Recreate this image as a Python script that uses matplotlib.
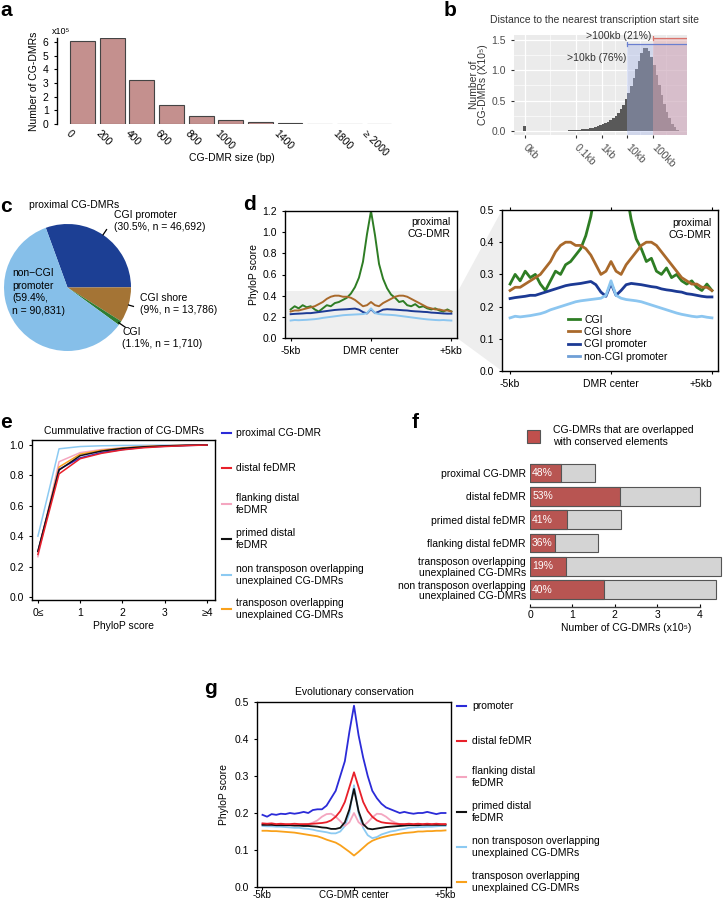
import matplotlib
matplotlib.use('Agg')
import numpy as np
import matplotlib.pyplot as plt
from matplotlib.lines import Line2D
from matplotlib.patches import Polygon, Rectangle
from matplotlib.ticker import FormatStrFormatter

plt.rcParams['font.family'] = ['Liberation Sans', 'DejaVu Sans']
plt.rcParams['font.size'] = 7.5
plt.rcParams['axes.linewidth'] = 1.0
plt.rcParams['xtick.labelsize'] = 7.5
plt.rcParams['ytick.labelsize'] = 7.5
plt.rcParams['xtick.major.size'] = 2.5
plt.rcParams['ytick.major.size'] = 2.5

# ---------------- data ----------------
# a: CG-DMR size histogram (x10^5)
size_counts = [6.07, 6.33, 3.23, 1.39, 0.59, 0.27, 0.14, 0.06, 0.03, 0.03, 0.03]
size_tick_pos = [0, 1, 2, 3, 4, 5, 7, 9, 10]
size_tick_labels = ['0', '200', '400', '600', '800', '1000', '1400', '1800', '≥ 2000']

# b: distance to nearest TSS, log10(bp) bins of 0.1 (x10^5)
tss_bins = np.round(np.arange(1.0, 6.1, 0.1), 1)
tss_counts = [0.003, 0.003, 0.004, 0.005, 0.006, 0.007, 0.008, 0.010, 0.012, 0.015,
              0.018, 0.022, 0.027, 0.033, 0.040, 0.048, 0.057, 0.068, 0.080, 0.094,
              0.110, 0.128, 0.150, 0.175, 0.210, 0.250, 0.300, 0.360, 0.430, 0.520,
              0.620, 0.740, 0.880, 1.020, 1.160, 1.280, 1.360, 1.370, 1.320, 1.220,
              1.080, 0.920, 0.760, 0.600, 0.450, 0.320, 0.210, 0.120, 0.060, 0.020,
              0.005]
tss_zero = 0.09
tss_ticks = [0, 2, 3, 4, 5]
tss_labels = ['0kb', '0.1kb', '1kb', '10kb', '100kb']

# c: proximal CG-DMR pie
pie_names = ['CGI promoter', 'CGI shore', 'CGI', 'non-CGI promoter']
pie_pct = [30.5, 9.0, 1.1, 59.4]
pie_colors = ['#1c3f94', '#a47435', '#2f7d32', '#86bfe9']

# d / g: PhyloP profiles around DMR centre (kb)
prof_x = np.linspace(-5, 5, 41)
d_cgi = [0.27, 0.30, 0.28, 0.31, 0.29, 0.30, 0.27, 0.25, 0.28, 0.31,
         0.30, 0.33, 0.34, 0.36, 0.38, 0.42, 0.48, 0.57, 0.72, 0.98,
         1.20,
         0.97, 0.70, 0.56, 0.47, 0.41, 0.38, 0.34, 0.35, 0.31, 0.30,
         0.32, 0.29, 0.30, 0.28, 0.27, 0.28, 0.26, 0.25, 0.27, 0.25]
d_shore = [0.25, 0.26, 0.26, 0.27, 0.28, 0.29, 0.30, 0.32, 0.34, 0.37,
           0.39, 0.40, 0.40, 0.39, 0.39, 0.38, 0.36, 0.33, 0.30, 0.31,
           0.34,
           0.31, 0.30, 0.33, 0.35, 0.37, 0.39, 0.40, 0.40, 0.39, 0.37,
           0.35, 0.33, 0.31, 0.29, 0.28, 0.27, 0.27, 0.26, 0.26, 0.25]
d_prom = [0.225, 0.228, 0.230, 0.232, 0.235, 0.235, 0.240, 0.245, 0.250, 0.255,
          0.260, 0.265, 0.268, 0.270, 0.272, 0.275, 0.278, 0.268, 0.245, 0.232,
          0.272,
          0.235, 0.250, 0.268, 0.272, 0.270, 0.268, 0.265, 0.262, 0.260, 0.255,
          0.252, 0.250, 0.247, 0.245, 0.240, 0.238, 0.235, 0.232, 0.230, 0.230]
d_noncgi = [0.165, 0.170, 0.168, 0.170, 0.172, 0.175, 0.178, 0.183, 0.190, 0.195,
            0.200, 0.205, 0.210, 0.215, 0.218, 0.220, 0.222, 0.224, 0.226, 0.235,
            0.280,
            0.235, 0.226, 0.222, 0.220, 0.218, 0.215, 0.210, 0.205, 0.200, 0.195,
            0.190, 0.185, 0.180, 0.176, 0.173, 0.170, 0.168, 0.170, 0.167, 0.165]

g_prom = [0.195, 0.190, 0.197, 0.195, 0.198, 0.197, 0.200, 0.198, 0.200, 0.203,
          0.200, 0.208, 0.210, 0.210, 0.220, 0.240, 0.260, 0.300, 0.340, 0.420,
          0.490,
          0.410, 0.350, 0.300, 0.260, 0.240, 0.225, 0.215, 0.210, 0.205, 0.200,
          0.203, 0.200, 0.198, 0.200, 0.200, 0.203, 0.200, 0.197, 0.200, 0.200]
g_distal = [0.172, 0.171, 0.172, 0.170, 0.171, 0.170, 0.170, 0.171, 0.170, 0.170,
            0.170, 0.171, 0.172, 0.173, 0.175, 0.180, 0.190, 0.205, 0.230, 0.270,
            0.310,
            0.270, 0.230, 0.205, 0.190, 0.180, 0.175, 0.173, 0.172, 0.171, 0.170,
            0.170, 0.171, 0.170, 0.171, 0.170, 0.171, 0.170, 0.171, 0.170, 0.170]
g_flank = [0.170, 0.169, 0.168, 0.168, 0.168, 0.167, 0.167, 0.167, 0.167, 0.168,
           0.170, 0.174, 0.180, 0.190, 0.197, 0.198, 0.190, 0.178, 0.165, 0.175,
           0.200,
           0.175, 0.165, 0.175, 0.188, 0.198, 0.197, 0.190, 0.180, 0.174, 0.170,
           0.168, 0.167, 0.167, 0.167, 0.168, 0.168, 0.168, 0.169, 0.169, 0.170]
g_primed = [0.168, 0.168, 0.168, 0.167, 0.167, 0.167, 0.167, 0.166, 0.166, 0.165,
            0.165, 0.164, 0.163, 0.161, 0.160, 0.157, 0.157, 0.160, 0.175, 0.210,
            0.265,
            0.205, 0.170, 0.158, 0.156, 0.158, 0.160, 0.162, 0.163, 0.164, 0.165,
            0.166, 0.167, 0.167, 0.167, 0.168, 0.168, 0.168, 0.168, 0.168, 0.168]
g_nontrans = [0.165, 0.164, 0.164, 0.163, 0.163, 0.162, 0.161, 0.160, 0.160, 0.158,
              0.157, 0.155, 0.152, 0.150, 0.148, 0.145, 0.145, 0.150, 0.165, 0.200,
              0.275,
              0.200, 0.160, 0.140, 0.132, 0.135, 0.142, 0.146, 0.150, 0.152, 0.155,
              0.157, 0.160, 0.161, 0.162, 0.162, 0.163, 0.163, 0.164, 0.165, 0.165]
g_trans = [0.152, 0.152, 0.151, 0.151, 0.150, 0.149, 0.148, 0.147, 0.145, 0.143,
           0.141, 0.139, 0.137, 0.133, 0.128, 0.124, 0.120, 0.113, 0.104, 0.095,
           0.085,
           0.095, 0.106, 0.117, 0.125, 0.130, 0.134, 0.137, 0.140, 0.142, 0.144,
           0.146, 0.147, 0.148, 0.150, 0.150, 0.151, 0.151, 0.152, 0.152, 0.153]

# e: cumulative fraction vs PhyloP score
cum_x = [0, 0.5, 1, 1.5, 2, 2.5, 3, 3.5, 4]
cum_proximal = [0.30, 0.84, 0.915, 0.950, 0.970, 0.985, 0.992, 0.997, 1.0]
cum_distal = [0.28, 0.81, 0.910, 0.945, 0.968, 0.982, 0.990, 0.996, 1.0]
cum_flank = [0.265, 0.89, 0.950, 0.970, 0.982, 0.990, 0.995, 0.998, 1.0]
cum_primed = [0.30, 0.835, 0.930, 0.960, 0.978, 0.988, 0.994, 0.998, 1.0]
cum_nontrans = [0.40, 0.975, 0.990, 0.995, 0.997, 0.998, 0.999, 1.0, 1.0]
cum_trans = [0.30, 0.855, 0.940, 0.965, 0.980, 0.990, 0.995, 0.998, 1.0]

# f: overlap with conserved elements (x10^5)
f_labels = ['proximal CG-DMR', 'distal feDMR', 'primed distal feDMR',
            'flanking distal feDMR', 'transposon overlapping\nunexplained CG-DMRs',
            'non transposon overlapping\nunexplained CG-DMRs']
f_total = [1.54, 4.00, 2.14, 1.61, 4.51, 4.38]
f_pct = [48, 53, 41, 36, 19, 40]

# ---------------- layout helpers (pixel coords) ----------------
W, H = 723, 900


def box(l, t, r, b):
    return [l / W, 1 - b / H, (r - l) / W, (b - t) / H]


def fx(x):
    return x / W


def fy(y):
    return 1 - y / H


fig = plt.figure(figsize=(7.23, 9.0), dpi=100)

for letter, x, y in [('a', 0, 11), ('b', 444, 10), ('c', 0, 207), ('d', 243, 205),
                     ('e', 0, 423), ('f', 412, 423), ('g', 204, 688)]:
    fig.text(fx(x), fy(y), letter, fontsize=15, fontweight='bold', va='center')

# ---------------- a ----------------
ax_a = fig.add_axes(box(57, 38, 395, 124))
ax_a.bar(np.arange(len(size_counts)) + 0.5, size_counts, width=0.84,
         color='#c4908e', edgecolor='#444444', linewidth=0.8)
ax_a.set_xlim(-0.36, 11.04)
ax_a.set_ylim(0, 6.3)
for s in ['top', 'right', 'bottom']:
    ax_a.spines[s].set_visible(False)
ax_a.set_yticks(range(7))
ax_a.set_xticks(size_tick_pos, size_tick_labels, rotation=-45, ha='left',
                va='center', rotation_mode='anchor')
ax_a.tick_params(axis='x', length=0, pad=6)
ax_a.set_ylabel('Number of CG-DMRs', labelpad=3)
fig.text(fx(52), fy(32), 'x10\u2075', fontsize=6.5, va='center')
fig.text(fx(232), fy(158), 'CG-DMR size (bp)', ha='center', va='center')

# ---------------- b ----------------
ax_b = fig.add_axes(box(514, 35, 687, 135))
ax_b.set_facecolor('#ebebeb')
for s in ax_b.spines.values():
    s.set_visible(False)
ax_b.set_xlim(-0.41, 6.32)
ax_b.set_ylim(-0.066, 1.58)
ax_b.set_axisbelow(True)
ax_b.set_xticks(tss_ticks)
ax_b.set_xticks([1, 2.5, 3.5, 4.5, 5.5], minor=True)
ax_b.set_yticks([0, 0.5, 1.0, 1.5])
ax_b.set_yticks([0.25, 0.75, 1.25], minor=True)
ax_b.grid(which='major', color='white', lw=0.9)
ax_b.grid(which='minor', color='white', lw=0.45)
ax_b.tick_params(which='minor', length=0)
ax_b.tick_params(which='major', color='#333333', labelcolor='#4d4d4d')
ax_b.yaxis.set_major_formatter(FormatStrFormatter('%.1f'))
ax_b.set_xticklabels(tss_labels, rotation=-45, ha='left', va='center',
                     rotation_mode='anchor')
ax_b.tick_params(axis='x', pad=5)
ax_b.bar(tss_bins + 0.05, tss_counts, width=0.1, color='#595959', linewidth=0)
ax_b.bar([0], [tss_zero], width=0.12, color='#595959', linewidth=0)
far10, far100 = 4, 5
ax_b.fill_between([far10, 6.32], -0.066, 1.43, color='#a9b8ea', alpha=0.4, lw=0)
ax_b.fill_between([far100, 6.32], -0.066, 1.53, color='#e0a2a6', alpha=0.45, lw=0)
ax_b.plot([far10, 6.32], [1.43, 1.43], color='#6a7fd0', lw=0.9)
ax_b.plot([far10, far10], [1.40, 1.46], color='#6a7fd0', lw=0.9)
ax_b.plot([far100, 6.32], [1.53, 1.53], color='#d9736c', lw=0.9)
ax_b.plot([far100, far100], [1.50, 1.56], color='#d9736c', lw=0.9)
ax_b.text(4.95, 1.56, '>100kb (21%)', ha='right', va='center', color='#333333')
ax_b.text(3.95, 1.2, '>10kb (76%)', ha='right', va='center', color='#333333')
ax_b.set_ylabel('Number of\nCG-DMRs (X10\u2075)', color='#333333', linespacing=0.95,
                labelpad=2)
fig.text(fx(594), fy(20), 'Distance to the nearest transcription start site',
         ha='center', va='center', color='#333333')

# ---------------- c ----------------
ax_c = fig.add_axes(box(4, 224, 131, 351))
ax_c.pie(pie_pct, colors=pie_colors, startangle=110, counterclock=False,
         radius=1, wedgeprops=dict(linewidth=0))
ax_c.set_xlim(-1, 1)
ax_c.set_ylim(-1, 1)
for ang, r0, r1 in [(56, 1.0, 1.1), (-16, 1.0, 1.08), (-34.5, 0.98, 1.1)]:
    a = np.deg2rad(ang)
    ax_c.plot([r0 * np.cos(a), r1 * np.cos(a)], [r0 * np.sin(a), r1 * np.sin(a)],
              color='black', lw=0.9, clip_on=False)
ax_c.text(-0.61, 1.3, 'proximal CG-DMRs', va='center')
ax_c.text(0.73, 1.22, 'CGI promoter\n(30.5%, n = 46,692)', va='top', linespacing=1.3)
ax_c.text(-0.87, 0.3, 'non\u2212CGI\npromoter\n(59.4%,\nn = 90,831)', va='top',
          linespacing=1.3)
ax_c.text(1.14, -0.08, 'CGI shore\n(9%, n = 13,786)', va='top', linespacing=1.3)
ax_c.text(0.86, -0.62, 'CGI\n(1.1%, n = 1,710)', va='top', linespacing=1.3)

# ---------------- d ----------------
d_series = [(d_cgi, '#2e7d24', 'CGI'), (d_shore, '#a9692b', 'CGI shore'),
            (d_prom, '#1c3a94', 'CGI promoter'), (d_noncgi, '#8cc6f0', 'non-CGI promoter')]
fig.add_artist(Polygon([(fx(457), fy(293)), (fx(502), fy(210)), (fx(502), fy(371)),
                        (fx(457), fy(338))], closed=True, transform=fig.transFigure,
                       facecolor='#eeeeee', edgecolor='none', zorder=-1))

ax_dl = fig.add_axes(box(285, 211, 457, 338))
ax_dl.axhspan(0, 0.44, color='#efefef', lw=0)
for vals, col, name in d_series:
    ax_dl.plot(prof_x, vals, color=col, lw=1.4)
ax_dl.set_xlim(-5.35, 5.35)
ax_dl.set_ylim(0, 1.2)
ax_dl.set_yticks([0, 0.2, 0.4, 0.6, 0.8, 1.0, 1.2])
ax_dl.yaxis.set_major_formatter(FormatStrFormatter('%.1f'))
ax_dl.set_xticks([-5, 0, 5], ['-5kb', 'DMR center', '+5kb'])
ax_dl.set_ylabel('PhyloP score', labelpad=2)
ax_dl.text(0.96, 0.95, 'proximal\nCG-DMR', transform=ax_dl.transAxes, ha='right',
           va='top', linespacing=1.2)

ax_dr = fig.add_axes(box(502, 210, 718, 371))
for vals, col, name in d_series:
    ax_dr.plot(prof_x, vals, color=col, lw=2.0)
ax_dr.set_xlim(-5.4, 5.3)
ax_dr.set_ylim(0, 0.5)
ax_dr.set_yticks([0, 0.1, 0.2, 0.3, 0.4, 0.5])
ax_dr.yaxis.set_major_formatter(FormatStrFormatter('%.1f'))
ax_dr.set_xticks([-5, 0, 5], ['-5kb', 'DMR center', '+5kb'])
ax_dr.get_xticklabels()[2].set_ha('right')
ax_dr.get_xticklabels()[2].set_x(5.4)
ax_dr.tick_params(axis='x', top=True)
ax_dr.text(0.97, 0.95, 'proximal\nCG-DMR', transform=ax_dr.transAxes, ha='right',
           va='top', linespacing=1.2)
leg_cols = ['#2e7d24', '#a9692b', '#1c3a94', '#6f9fd6']
handles = [Line2D([], [], color=c, lw=2) for c in leg_cols]
ax_dr.legend(handles, [s[2] for s in d_series], loc='lower left',
             bbox_to_anchor=(0.26, 0.0), frameon=False, handlelength=1.2,
             handletextpad=0.4, labelspacing=0.22, fontsize=7.5)

# ---------------- e ----------------
ax_e = fig.add_axes(box(32, 440, 215, 600))
e_series = [(cum_nontrans, '#8ccaf2'), (cum_flank, '#f4a6c0'), (cum_trans, '#f9a11b'),
            (cum_proximal, '#2b2bd8'), (cum_primed, '#111111'), (cum_distal, '#e8202a')]
for vals, col in e_series:
    ax_e.plot(cum_x, vals, color=col, lw=1.1)
ax_e.set_xlim(-0.14, 4.19)
ax_e.set_ylim(-0.02, 1.033)
ax_e.set_yticks([0, 0.2, 0.4, 0.6, 0.8, 1.0])
ax_e.yaxis.set_major_formatter(FormatStrFormatter('%.1f'))
ax_e.set_xticks([0, 1, 2, 3, 4], ['0\u2264', '1', '2', '3', '\u22654'])
ax_e.set_xlabel('PhyloP score', labelpad=2)
ax_e.set_title('Cummulative fraction of CG-DMRs', fontsize=7.5, pad=4)

e_legend = [('proximal CG-DMR', '#2b2bd8'), ('distal feDMR', '#e8202a'),
            ('flanking distal\nfeDMR', '#f4a6c0'), ('primed distal\nfeDMR', '#111111'),
            ('non transposon overlapping\nunexplained CG-DMRs', '#8ccaf2'),
            ('transposon overlapping\nunexplained CG-DMRs', '#f9a11b')]
for (lab, col), y in zip(e_legend, [433, 468, 504, 539, 575, 609]):
    fig.add_artist(Line2D([fx(222), fx(231)], [fy(y), fy(y)], color=col, lw=1.5,
                          transform=fig.transFigure))
    fig.text(fx(236), fy(y), lab, ha='left', va='center', linespacing=1.3)

# ---------------- f ----------------
ax_f = fig.add_axes(box(530, 462, 723, 607))
ypos = np.arange(len(f_labels))
overlap = [t * p / 100 for t, p in zip(f_total, f_pct)]
ax_f.barh(ypos, f_total, height=0.8, color='#d4d4d4', edgecolor='#555555', lw=0.8)
ax_f.barh(ypos, overlap, height=0.8, color='#b85552', edgecolor='#555555', lw=0.8)
for y, p in zip(ypos, f_pct):
    ax_f.text(0.05, y, f'{p}%', color='white', va='center', ha='left', fontsize=7.5)
ax_f.set_xlim(0, 4.55)
ax_f.set_ylim(5.75, -0.47)
ax_f.set_yticks(ypos, f_labels, linespacing=1.05)
ax_f.tick_params(axis='y', length=0, pad=3)
for s in ['top', 'right', 'left']:
    ax_f.spines[s].set_visible(False)
ax_f.spines['bottom'].set_bounds(0, 4)
ax_f.spines['bottom'].set_color('#444444')
ax_f.set_xticks([0, 1, 2, 3, 4])
ax_f.tick_params(axis='x', direction='in', pad=2)
ax_f.set_xlabel('Number of CG-DMRs (x10\u2075)', labelpad=2)
fig.add_artist(Rectangle((fx(527), fy(443)), 13 / W, 13 / H, transform=fig.transFigure,
                         facecolor='#c0504d', edgecolor='#555555', lw=0.8))
fig.text(fx(553), fy(436), 'CG-DMRs that are overlapped\nwith conserved elements',
         ha='left', va='center', linespacing=1.3)

# ---------------- g ----------------
ax_g = fig.add_axes(box(257, 702, 451, 887))
g_series = [(g_trans, '#f9a11b'), (g_nontrans, '#8ccaf2'), (g_flank, '#f4a6c0'),
            (g_primed, '#111111'), (g_distal, '#e8202a'), (g_prom, '#2b2bd8')]
for vals, col in g_series:
    ax_g.plot(prof_x, vals, color=col, lw=1.3)
ax_g.set_xlim(-5.3, 5.3)
ax_g.set_ylim(0, 0.5)
ax_g.set_yticks([0, 0.1, 0.2, 0.3, 0.4, 0.5])
ax_g.yaxis.set_major_formatter(FormatStrFormatter('%.1f'))
ax_g.set_xticks([-5, 0, 5], ['-5kb', 'CG-DMR center', '+5kb'])
ax_g.tick_params(axis='x', length=2, pad=0.5, labelsize=7)
ax_g.set_ylabel('PhyloP score', labelpad=4)
ax_g.set_title('Evolutionary conservation', fontsize=7.5, pad=5)

g_legend = [('promoter', '#2b2bd8'), ('distal feDMR', '#e8202a'),
            ('flanking distal\nfeDMR', '#f4a6c0'), ('primed distal\nfeDMR', '#111111'),
            ('non transposon overlapping\nunexplained CG-DMRs', '#8ccaf2'),
            ('transposon overlapping\nunexplained CG-DMRs', '#f9a11b')]
for (lab, col), y in zip(g_legend, [706, 741, 777, 812, 847, 882]):
    fig.add_artist(Line2D([fx(457), fx(466)], [fy(y), fy(y)], color=col, lw=1.5,
                          transform=fig.transFigure))
    fig.text(fx(472), fy(y), lab, ha='left', va='center', linespacing=1.3)

fig.savefig('out.png', dpi=100)
